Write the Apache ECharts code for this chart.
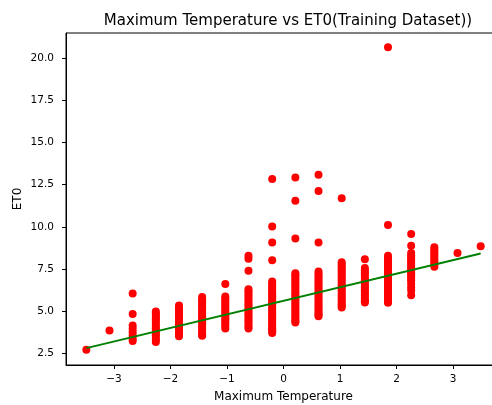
<!DOCTYPE html>
<html>
<head>
<meta charset="utf-8">
<script src="https://cdn.jsdelivr.net/npm/echarts@6/dist/echarts.min.js"></script>
<style>
  html, body { margin: 0; padding: 0; background: #fff; }
  #chart { width: 492px; height: 405px; }
</style>
</head>
<body>
<div id="chart"></div>
<script>
// x positions of the temperature columns (standardized)
const xCols = [-3.49, -3.08, -2.67, -2.26, -1.85, -1.44, -1.03, -0.62, -0.20,
  0.21, 0.62, 1.03, 1.44, 1.85, 2.26, 2.67, 3.08, 3.49];

// ET0 values read per column
const etCols = [
  [2.70],
  [3.85],
  [6.05, 4.82, 4.15, 3.95, 3.75, 3.55, 3.35, 3.23],
  [4.98, 4.85, 4.72, 4.60, 4.50, 4.38, 4.25, 4.12, 4.00, 3.90, 3.78, 3.65, 3.55, 3.42, 3.30, 3.17],
  [5.33, 5.20, 5.08, 4.95, 4.85, 4.72, 4.60, 4.48, 4.35, 4.22, 4.10, 3.98, 3.85, 3.72, 3.60, 3.51],
  [5.83, 5.70, 5.58, 5.45, 5.32, 5.20, 5.08, 4.95, 4.82, 4.70, 4.58, 4.45, 4.32, 4.20, 4.08, 3.95, 3.82, 3.70, 3.60, 3.53],
  [6.60, 5.87, 5.75, 5.62, 5.50, 5.38, 5.25, 5.12, 5.00, 4.88, 4.75, 4.62, 4.50, 4.38, 4.25, 4.12, 3.97],
  [8.28, 8.10, 7.39, 6.30, 6.18, 6.05, 5.92, 5.80, 5.68, 5.55, 5.42, 5.30, 5.18, 5.05, 4.92, 4.80, 4.68, 4.55, 4.42, 4.30, 4.18, 4.05, 3.97],
  [12.83, 10.02, 9.07, 8.02, 6.76, 6.62, 6.50, 6.38, 6.25, 6.12, 6.00, 5.88, 5.75, 5.62, 5.50, 5.38, 5.25, 5.12, 5.00, 4.88, 4.75, 4.62, 4.50, 4.38, 4.25, 4.12, 4.00, 3.90, 3.80, 3.70],
  [12.93, 11.54, 9.31, 7.25, 7.12, 7.00, 6.88, 6.75, 6.62, 6.50, 6.38, 6.25, 6.12, 6.00, 5.88, 5.75, 5.62, 5.50, 5.38, 5.25, 5.12, 5.00, 4.88, 4.75, 4.62, 4.50, 4.40, 4.32],
  [13.09, 12.12, 9.07, 7.35, 7.22, 7.10, 6.98, 6.85, 6.72, 6.60, 6.48, 6.35, 6.22, 6.10, 5.98, 5.85, 5.72, 5.60, 5.48, 5.35, 5.22, 5.10, 4.98, 4.85, 4.78, 4.70],
  [11.70, 7.90, 7.78, 7.65, 7.52, 7.40, 7.28, 7.15, 7.02, 6.90, 6.78, 6.65, 6.52, 6.40, 6.28, 6.15, 6.02, 5.90, 5.78, 5.65, 5.52, 5.40, 5.30, 5.21],
  [8.08, 7.55, 7.42, 7.30, 7.18, 7.05, 6.92, 6.80, 6.68, 6.55, 6.42, 6.30, 6.18, 6.05, 5.92, 5.80, 5.68, 5.58, 5.51],
  [20.65, 10.10, 8.28, 8.15, 8.02, 7.90, 7.78, 7.65, 7.52, 7.40, 7.28, 7.15, 7.02, 6.90, 6.78, 6.65, 6.52, 6.40, 6.28, 6.15, 6.02, 5.90, 5.78, 5.65, 5.55, 5.49],
  [9.57, 8.87, 8.45, 8.30, 8.18, 8.05, 7.92, 7.80, 7.68, 7.55, 7.42, 7.30, 7.18, 7.05, 6.92, 6.80, 6.62, 6.42, 6.22, 5.94],
  [8.78, 8.65, 8.52, 8.40, 8.28, 8.15, 8.02, 7.90, 7.76, 7.63],
  [8.44],
  [8.84]
];

// fitted regression line end points
const lineX = [-3.49, 3.49];
const lineY = [2.80, 8.42];

const points = [];
xCols.forEach((x, i) => {
  etCols[i].forEach((y) => points.push([x, y]));
});

const chart = echarts.init(document.getElementById('chart'), null, { renderer: 'canvas' });

const fmtX = (v) => (v < 0 ? '\u2212' + Math.abs(v) : String(v));

const option = {
  animation: false,
  backgroundColor: '#fff',
  textStyle: { fontFamily: 'DejaVu Sans' },
  title: {
    text: 'Maximum Temperature vs ET0(Training Dataset))',
    left: 283,
    top: 9,
    textAlign: 'center',
    textStyle: { fontFamily: 'DejaVu Sans', fontSize: 15, fontWeight: 'normal', color: '#000' },
  },
  grid: {
    left: 66,
    top: 33,
    width: 435,
    height: 332,
    show: true,
    borderColor: '#000',
    borderWidth: 1,
    outerBoundsMode: 'none',
  },
  xAxis: {
    type: 'value',
    min: -3.85,
    max: 3.85,
    minInterval: 1,
    maxInterval: 1,
    name: 'Maximum Temperature',
    nameLocation: 'middle',
    nameGap: 26,
    nameMoveOverlap: false,
    nameTextStyle: { fontFamily: 'DejaVu Sans', fontSize: 12, color: '#000' },
    axisLine: { onZero: false, lineStyle: { color: '#000', width: 1 } },
    axisTick: { inside: false, length: 4, lineStyle: { color: '#000' } },
    axisLabel: { margin: 9, fontSize: 10.5, color: '#000', formatter: fmtX, showMinLabel: false, showMaxLabel: false },
    splitLine: { show: false },
  },
  yAxis: {
    type: 'value',
    min: 1.8,
    max: 21.5,
    minInterval: 2.5,
    maxInterval: 2.5,
    name: 'ET0',
    nameLocation: 'middle',
    nameGap: 42,
    nameMoveOverlap: false,
    nameTextStyle: { fontFamily: 'DejaVu Sans', fontSize: 12, color: '#000' },
    axisLine: { onZero: false, lineStyle: { color: '#000', width: 1 } },
    axisTick: { inside: false, length: 4, lineStyle: { color: '#000' } },
    axisLabel: { margin: 12, fontSize: 10.5, color: '#000', formatter: (v) => v.toFixed(1), showMinLabel: false, showMaxLabel: false },
    splitLine: { show: false },
  },
  series: [
    {
      name: 'ET0',
      type: 'scatter',
      symbol: 'circle',
      symbolSize: 8,
      itemStyle: { color: '#ff0000', opacity: 1 },
      data: points,
      z: 2,
    },
    {
      name: 'fit',
      type: 'line',
      showSymbol: false,
      symbol: 'none',
      lineStyle: { color: '#008000', width: 2 },
      data: lineX.map((x, i) => [x, lineY[i]]),
      z: 3,
    },
  ],
};

chart.setOption(option);
</script>
</body>
</html>
